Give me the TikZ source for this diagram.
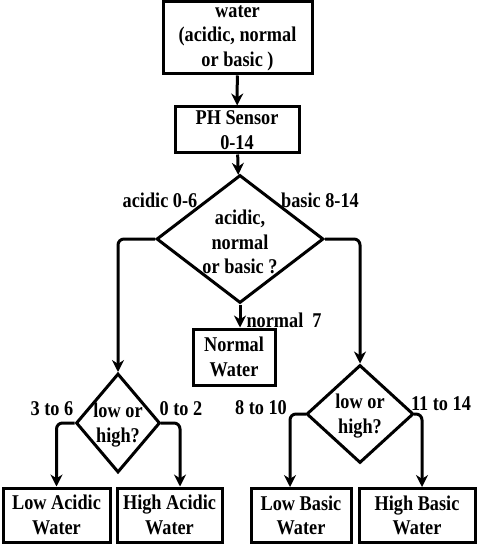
\documentclass[tikz,border=0pt]{standalone}
\usepackage{fontspec}
\setmainfont{Liberation Serif}[BoldFont={Liberation Serif Bold},FakeStretch=0.87]
\usetikzlibrary{shapes.geometric,arrows.meta}
\begin{document}
\begin{tikzpicture}[x=1pt,y=-1pt,line width=3pt,
  fnt/.style={font=\bfseries\fontsize{21}{24.5}\selectfont},
  box/.style={draw,rectangle,inner sep=0pt,align=center,fnt},
  dia/.style={draw,diamond,inner sep=0pt},
  txt/.style={align=center,inner sep=0pt,fnt},
  lbl/.style={inner sep=0pt,fnt},
  arr/.style={-{Stealth[length=12pt,width=12pt]},rounded corners=6pt}]
\useasboundingbox (0,0) rectangle (478,545);
\fill[white] (0,0) rectangle (478,545);
\node[box,minimum width=149pt,minimum height=72pt] (water) at (237.5,38) {water\\(acidic, normal\\or basic )};
\node[box,minimum width=124pt,minimum height=46pt] (ph) at (237,130) {PH Sensor\\0-14};
\node[dia,minimum width=167pt,minimum height=128pt] (d1) at (240,239) {};
\node[txt] (d1t) at (240,242) {acidic,\\normal\\or basic ?};
\node[box,minimum width=82pt,minimum height=56pt] (nw) at (234,357) {Normal\\Water};
\node[dia,minimum width=84pt,minimum height=99pt] (d2l) at (118,423) {};
\node[txt] (d2lt) at (118,425) {low or\\high?};
\node[dia,minimum width=107pt,minimum height=98pt] (d2r) at (360,414) {};
\node[txt] (d2rt) at (360,416) {low or\\high?};
\node[box,minimum width=107pt,minimum height=54pt] (la) at (56.5,515) {Low Acidic\\Water};
\node[box,minimum width=105pt,minimum height=54pt] (ha) at (169.5,515) {High Acidic\\Water};
\node[box,minimum width=100pt,minimum height=54pt] (lb) at (301,515.5) {Low Basic\\Water};
\node[box,minimum width=116pt,minimum height=54pt] (hb) at (417,515.5) {High Basic\\Water};
\draw[arr] (water) -- (ph);
\draw[arr] (ph) -- (d1);
\draw[arr] (d1.south) -- (d1.south |- nw.north);
\draw[arr] (d1.west) -| (d2l.north);
\draw[arr] (d1.east) -| (d2r.north);
\draw[arr] (d2l.west) -| (la.north);
\draw[arr] ([xshift=-1pt]d2l.east) -| ([xshift=10.5pt]ha.north);
\draw[arr] ([xshift=1pt]d2r.west) -| ([xshift=-11pt]lb.north);
\draw[arr] ([xshift=-1pt]d2r.east) -| ([xshift=5pt]hb.north);
\node[lbl] (l1) at (160,200) {acidic 0-6};
\node[lbl] (l2) at (320,200) {basic 8-14};
\node[lbl,anchor=west] (l3) at (245,320) {normal\ \ 7};
\node[lbl] (l4) at (52,409) {3 to 6};
\node[lbl] (l5) at (181,409) {0 to 2};
\node[lbl] (l6) at (261,408) {8 to 10};
\node[lbl] (l7) at (441,404) {11 to 14};
\end{tikzpicture}
\end{document}
